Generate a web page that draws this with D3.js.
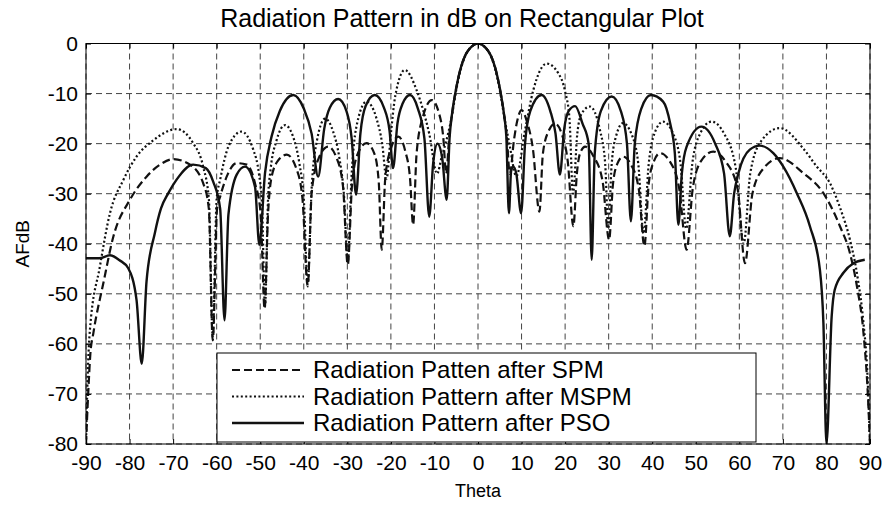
<!DOCTYPE html>
<html>
<head>
<meta charset="utf-8">
<script src="https://d3js.org/d3.v7.min.js"></script>
<style>
  body { margin: 0; background: #fff; }
  svg { display: block; font-family: "Liberation Sans", Arial, sans-serif; }
</style>
</head>
<body>
<script>

// tick values of both axes
var xTicks = [-90, -80, -70, -60, -50, -40, -30, -20, -10, 0, 10, 20, 30, 40, 50, 60, 70, 80, 90];
var yTicks = [-80, -70, -60, -50, -40, -30, -20, -10, 0];

var legendNames = ['Radiation Patten after SPM', 'Radiation Pattern after MSPM', 'Radiation Pattern after PSO'];

// [theta, AFdB]
var spmPattern = [
    [-90,-80],[-89.5,-70],[-89,-62],[-88.3,-57.8],[-86,-47.8],[-83.7,-38.5],[-79.9,-31.2],[-76.1,-26.6],
    [-73,-24.2],[-70,-23.1],[-66.1,-24.2],[-63.1,-27.9],[-61.8,-33],[-60.9,-59.3],[-59.9,-33],[-59.2,-30.6],
    [-57.7,-26.6],[-55.4,-23.9],[-53.1,-24.2],[-51.2,-27.9],[-49.9,-34],[-49,-53],[-48.2,-34],[-47.5,-27.2],
    [-46,-23.5],[-43.9,-22.2],[-41.7,-25],[-40.3,-31],[-39.1,-48.5],[-38.2,-30],[-36.7,-23.2],[-34.4,-20.6],
    [-32.5,-22.8],[-31,-28.5],[-29.9,-44.2],[-28.9,-28],[-27.6,-22],[-25.6,-19.9],[-23.8,-22],[-22.8,-27.5],
    [-22.1,-41.2],[-21.3,-27],[-20,-21],[-18.3,-18.6],[-16.7,-21.5],[-15.6,-27],[-14.9,-36.2],[-14.1,-22],
    [-12.6,-14.5],[-10.6,-11.3],[-9,-13.8],[-8,-18.5],[-7.3,-26],[-6.6,-18.5],[-6,-14.3],[-5,-8.9],
    [-4,-5],[-3,-2.5],[-2,-1.1],[-1,-0.3],[0,0],[1,-0.3],[2,-1.1],[3,-2.5],[4,-5],[5,-8.9],[6,-14.3],
    [6.6,-18.5],[7.3,-26],[8.3,-19],[9,-15.5],[10,-13.3],[11.2,-15.5],[12.6,-21],[14.1,-33.6],[14.9,-22],
    [16.2,-17.5],[17.7,-16],[19.2,-18],[20.6,-23.5],[21.9,-36.5],[22.7,-26],[23.4,-22],[24.6,-20.6],
    [26.5,-22.5],[28.6,-27.5],[30.1,-39.2],[31,-28],[32,-24],[33.3,-22.6],[35,-24],[36.9,-29],[38.2,-40.5],
    [39.2,-28],[40.4,-23.5],[41.8,-21.9],[44,-23.5],[46.2,-29],[47.9,-41.2],[49.3,-29],[51.2,-23.5],
    [54,-21.6],[56.8,-23.5],[59.6,-29],[61.3,-43.9],[63,-30],[65.5,-25],[69.3,-22.9],[74.7,-25.9],
    [79.3,-29.9],[83.1,-36.5],[85.4,-41.9],[87,-48.5],[88.5,-57.8],[89.5,-70],[90,-80]
];

var mspmPattern = [
    [-90,-80],[-89.6,-66],[-89.1,-57.2],[-86.8,-44.5],[-84.5,-33.9],[-81.4,-27.2],[-78.4,-22.6],[-74.5,-19.3],
    [-69.2,-17.1],[-65.4,-19.9],[-63.1,-24.6],[-61.8,-31],[-60.9,-58.5],[-60,-31],[-59.2,-27.2],[-57.3,-20.6],
    [-54.3,-17.6],[-51.6,-21.2],[-50.3,-26],[-49.6,-32],[-48.9,-52.5],[-48.2,-31],[-47.6,-25],[-46.3,-19.5],
    [-44.3,-16.3],[-42.5,-18.5],[-41,-24],[-40,-31],[-39.1,-48],[-38.2,-29],[-37,-19.5],[-35.1,-15],
    [-33.3,-17.5],[-31.8,-23],[-30.8,-30],[-29.9,-43.5],[-29,-26],[-28,-17],[-25.6,-11.6],[-23.3,-15],
    [-22,-20],[-21,-27],[-20,-18],[-19,-10.5],[-16.8,-5.3],[-14.1,-9.3],[-12.6,-13.3],[-11.2,-18],
    [-9.4,-26],[-8.3,-22.5],[-7.3,-19.5],[-6,-14.5],[-5,-9.3],[-4,-5.3],[-3,-2.6],[-2,-1.1],[-1,-0.3],
    [0,0],[1,-0.3],[2,-1.1],[3,-2.6],[4,-5.3],[5,-9.3],[6,-14.5],[7.3,-20.5],[8.8,-26.5],[10.8,-17.3],
    [12.7,-9.3],[15.8,-4],[18.4,-5.9],[20,-9.6],[21,-15],[21.8,-30],[22.8,-18],[23.8,-14],[25.7,-12.6],
    [28,-17.3],[29.2,-24],[29.9,-37],[30.7,-24],[31.7,-18.5],[33.3,-15.9],[35.2,-18],[36.8,-24],[38,-38],
    [39.2,-24],[40.5,-18],[42.5,-15.6],[44.8,-18],[46.5,-24],[47.8,-37],[49.2,-24],[51,-18],[53.6,-15.6],
    [56.5,-18],[59.2,-25],[61,-40],[62.5,-26],[65,-19.5],[69.3,-16.9],[74.7,-21],[77.7,-24.5],[80.8,-27.9],
    [83.2,-33],[85.4,-39.2],[87.2,-47],[88.5,-55.8],[89.4,-66],[90,-80]
];

var psoPattern = [
    [-90,-42.9],[-87,-42.9],[-84.5,-42.3],[-82.3,-43.3],[-80.3,-44.9],[-78.4,-51.2],[-77.2,-64],[-76.1,-47.5],
    [-74.2,-37.9],[-72.8,-33],[-71.1,-29.9],[-69.2,-27.2],[-65.4,-24.2],[-62.5,-24.9],[-60.8,-27.6],[-59.2,-33],
    [-58.2,-55.3],[-57.3,-34.2],[-55.4,-26.2],[-53.5,-24.6],[-51.2,-28.6],[-50.2,-40.2],[-48.9,-25.9],
    [-47.4,-18.6],[-45.5,-13.5],[-42.4,-10.3],[-40,-13],[-38.2,-18],[-36.7,-26.6],[-35.3,-17],[-34,-12.8],
    [-32.1,-11.1],[-30.2,-13.5],[-29,-19],[-28,-30.2],[-27,-18],[-25.8,-12.5],[-23.7,-10.3],[-21.6,-12.8],
    [-20.3,-17.5],[-19.5,-24.9],[-18.5,-16],[-17.3,-12],[-15.6,-10.3],[-13.8,-13],[-12.3,-19],[-11.2,-34.6],
    [-10.3,-24],[-9.3,-20],[-8.2,-23],[-7.2,-31.2],[-6.5,-18.5],[-6,-14.3],[-5,-8.9],[-4,-5],[-3,-2.5],
    [-2,-1.1],[-1,-0.3],[0,0],[1,-0.3],[2,-1.1],[3,-2.5],[4,-5],[5,-8.9],[6,-14.3],[6.5,-18.5],[7.1,-33.9],
    [7.6,-25.5],[8.1,-24.6],[8.8,-26],[9.9,-33.9],[10.8,-20],[12,-13.5],[14.6,-10.3],[16.6,-13.5],[17.8,-18],
    [18.8,-26.2],[19.8,-17],[20.8,-13.5],[22.3,-12.5],[24,-16],[25.4,-20],[26.1,-43.2],[26.8,-22],[28.2,-13.5],
    [30.7,-10.6],[32.8,-13.5],[34.2,-20],[35.1,-35.5],[36,-20],[37.5,-13],[39.7,-10.3],[42.5,-11.6],
    [44.1,-15.9],[45.2,-22],[46,-36.2],[46.8,-26],[47.9,-20.6],[51.3,-16.6],[54.4,-19.9],[56.5,-26],
    [57.8,-38.5],[58.8,-30],[59.8,-25.9],[62.4,-21.2],[64.7,-20.4],[67.8,-21.9],[70.1,-24.6],[73.2,-29.9],
    [76.2,-36.5],[78.5,-45.2],[79.3,-55.8],[80,-80],[81.2,-54.5],[81.9,-49.2],[83.9,-45.8],[86.2,-43.9],
    [88.8,-43.2]
];

var width = 882, height = 507;
var margin = {left: 86, right: 12, top: 43.5, bottom: 63};

var svg = d3.select('body').append('svg')
    .attr('width', width)
    .attr('height', height);

svg.append('rect').attr('width', width).attr('height', height).attr('fill', '#fff');

var x = d3.scaleLinear().domain([-90, 90]).range([margin.left, width - margin.right]);
var y = d3.scaleLinear().domain([-80, 0]).range([height - margin.bottom, margin.top]);

var plotW = x(90) - x(-90), plotH = y(-80) - y(0);

// clip so the nulls at -80 stay inside the box
svg.append('clipPath').attr('id', 'plotclip')
  .append('rect')
    .attr('x', x(-90)).attr('y', y(0))
    .attr('width', plotW).attr('height', plotH);

/*
 * dashed grid
 */
var grid = svg.append('g').attr('class', 'grid')
    .attr('stroke', '#444').attr('stroke-width', 1).attr('stroke-dasharray', '6,4');
grid.selectAll('line.gx').data(xTicks).enter().append('line')
    .attr('x1', d => x(d)).attr('x2', d => x(d))
    .attr('y1', y(0)).attr('y2', y(-80));
grid.selectAll('line.gy').data(yTicks).enter().append('line')
    .attr('x1', x(-90)).attr('x2', x(90))
    .attr('y1', d => y(d)).attr('y2', d => y(d));

/*
 * curves
 */
var line = d3.line()
    .x(d => x(d[0]))
    .y(d => y(d[1]))
    .curve(d3.curveMonotoneX);

var series = [
    {data: spmPattern, dash: '8,4', width: 2.2},
    {data: mspmPattern, dash: '2,2.4', width: 2.2},
    {data: psoPattern, dash: null, width: 2.4}
];

var curves = svg.append('g').attr('clip-path', 'url(#plotclip)');
series.forEach(function(s) {
    curves.append('path')
        .attr('d', line(s.data))
        .attr('fill', 'none')
        .attr('stroke', '#111')
        .attr('stroke-width', s.width)
        .attr('stroke-dasharray', s.dash);
});

/*
 * axes: MATLAB style box with inward ticks on all four sides
 */
function styleAxis(g) {
    g.select('.domain').remove();
    g.selectAll('.tick line').attr('stroke', '#000');
    g.selectAll('.tick text').attr('fill', '#000').attr('font-size', 21);
    g.attr('font-family', null);
}

// plain hyphen for negative labels, as in the original
var plainFormat = d => String(d);

svg.append('g')
    .attr('transform', 'translate(0,' + y(-80) + ')')
    .call(d3.axisBottom(x).tickValues(xTicks).tickSize(-5).tickPadding(11).tickFormat(plainFormat))
    .call(styleAxis);
svg.append('g')
    .attr('transform', 'translate(0,' + y(0) + ')')
    .call(d3.axisTop(x).tickValues(xTicks).tickSize(-5).tickFormat(''))
    .call(styleAxis);
svg.append('g')
    .attr('transform', 'translate(' + x(-90) + ',0)')
    .call(d3.axisLeft(y).tickValues(yTicks).tickSize(-5).tickPadding(8).tickFormat(plainFormat))
    .call(styleAxis);
svg.append('g')
    .attr('transform', 'translate(' + x(90) + ',0)')
    .call(d3.axisRight(y).tickValues(yTicks).tickSize(-5).tickFormat(''))
    .call(styleAxis);

svg.append('rect')
    .attr('x', x(-90)).attr('y', y(0))
    .attr('width', plotW).attr('height', plotH)
    .attr('fill', 'none').attr('stroke', '#000').attr('stroke-width', 1);

/*
 * legend
 */
var legend = svg.append('g').attr('transform', 'translate(217,353)');
legend.append('rect')
    .attr('width', 539).attr('height', 89)
    .attr('fill', '#fff').attr('stroke', '#000').attr('stroke-width', 1);
series.forEach(function(s, i) {
    var ly = 17 + i * 26.5;
    legend.append('line')
        .attr('x1', 15).attr('x2', 87)
        .attr('y1', ly).attr('y2', ly)
        .attr('stroke', '#111')
        .attr('stroke-width', s.width)
        .attr('stroke-dasharray', s.dash);
    legend.append('text')
        .attr('x', 96).attr('y', ly)
        .attr('dy', '0.35em')
        .attr('font-size', 24)
        .text(legendNames[i]);
});

/*
 * title and axis labels
 */
svg.append('text')
    .attr('x', 462).attr('y', 27)
    .attr('text-anchor', 'middle').attr('font-size', 25)
    .text('Radiation Pattern in dB on Rectangular Plot');

svg.append('text')
    .attr('x', (x(-90) + x(90)) / 2).attr('y', 497)
    .attr('text-anchor', 'middle').attr('font-size', 18)
    .text('Theta');

svg.append('text')
    .attr('transform', 'translate(29,' + ((y(0) + y(-80)) / 2) + ') rotate(-90)')
    .attr('text-anchor', 'middle').attr('font-size', 19)
    .text('AFdB');

</script>
</body>
</html>
